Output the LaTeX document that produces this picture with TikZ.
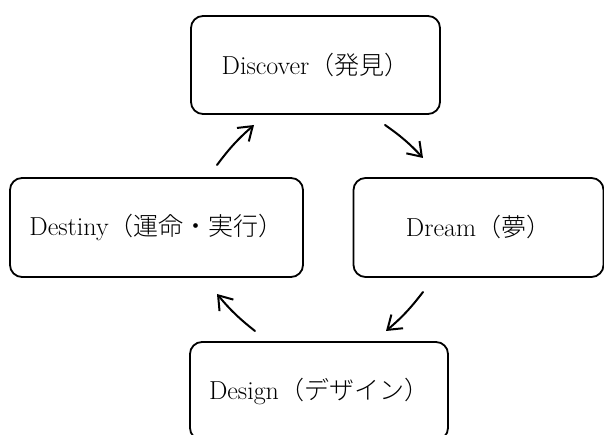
\documentclass[tikz,border=0pt]{standalone}
\usepackage{fontspec}
\IfFontExistsTF{Noto Sans CJK JP Light}
  {\newfontfamily\cjk{Noto Sans CJK JP Light}}
  {\IfFontExistsTF{Noto Sans CJK JP DemiLight}
    {\newfontfamily\cjk{Noto Sans CJK JP DemiLight}}
    {\newfontfamily\cjk{Noto Sans CJK JP}}}
\usetikzlibrary{arrows.meta}
\newcommand{\jp}[1]{{\cjk\fontsize{25}{30}\selectfont #1}}
\tikzset{
  phase/.style={draw, line width=1.8pt, rounded corners=12pt, inner sep=0pt,
    minimum height=98pt, font=\fontsize{26}{31}\selectfont},
  cyc/.style={line width=2pt, line cap=round,
    -{Straight Barb[length=13pt,width=18pt,line width=2pt]}, bend left=6}
}
\begin{document}
\begin{tikzpicture}[x=1pt,y=1pt]
\useasboundingbox (0,0) rectangle (604,435);
\clip (0,0) rectangle (604,435);
\node[phase, minimum width=249pt] (discover) at (315.5,370) {Discover\jp{（発見）}};
\node[phase, minimum width=293pt, minimum height=99pt] (destiny) at (156.5,207.5) {Destiny\jp{（運命・実行）}};
\node[phase, minimum width=250pt, minimum height=99pt] (dream) at (478.5,207.5) {Dream\jp{（夢）}};
\node[phase, minimum width=258pt] (design) at (319,44) {Design\jp{（デザイン）}};
\coordinate (a1s) at (217,270);
\coordinate (a1e) at (254,310);
\coordinate (a2s) at (385,310);
\coordinate (a2e) at (423,277);
\coordinate (a3s) at (423,143);
\coordinate (a3e) at (386,104);
\coordinate (a4s) at (255,104);
\coordinate (a4e) at (217,141);
\draw[cyc] (a1s) to (a1e);
\draw[cyc] (a2s) to (a2e);
\draw[cyc] (a3s) to (a3e);
\draw[cyc] (a4s) to (a4e);
\end{tikzpicture}
\end{document}
